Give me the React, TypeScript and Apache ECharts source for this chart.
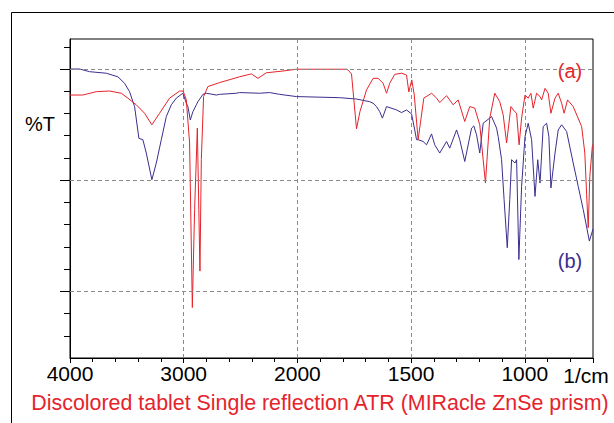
import { useEffect, useRef } from 'react';
import * as echarts from 'echarts';

// x tick labels (wavenumber, 1/cm) at positions 0,1000,2000,3000,4000 of the expanded axis
const xTickLabels = ['4000', '3000', '2000', '1500', '1000'];
const yMinorTicks = [-20, -10, 10, 20, 30, 40, 60, 70, 80, 90, 110];
const yMajorTicks = [0, 50, 100];

// (b) spectrum: wavenumber / %T
const bWn = [4000, 3916, 3828, 3681, 3579, 3520, 3476, 3432, 3394, 3359, 3329, 3280, 3241, 3197, 3153, 3109, 3065, 3007, 2977, 2963, 2942, 2919, 2889, 2875, 2831, 2801, 2713, 2684, 2537, 2508, 2332, 2244, 2156, 2009, 1814, 1740, 1682, 1667, 1652, 1638, 1626, 1608, 1564, 1542, 1520, 1498, 1484, 1476, 1469, 1447, 1432, 1410, 1396, 1374, 1344, 1330, 1300, 1286, 1264, 1234, 1224, 1212, 1198, 1183, 1146, 1124, 1117, 1102, 1091, 1077, 1066, 1058, 1043, 1036, 1026, 1014, 999, 985, 970, 955, 943, 933, 919, 904, 894, 885, 867, 853, 838, 816, 787, 765, 743, 716, 700];
const bT = [100, 100, 98.8, 98.1, 96.5, 93.6, 89.8, 83.1, 68.8, 68.2, 62.2, 50.2, 57.7, 68.2, 78.6, 83.9, 86.9, 89.1, 84.6, 83.1, 77.1, 80.8, 83.9, 85.3, 88.6, 89.1, 88.3, 88.6, 89.1, 89.4, 89.1, 89.4, 88.6, 87.6, 87.1, 86.5, 85.3, 84.6, 83.1, 80.8, 77.9, 83.1, 81.6, 80.4, 81.6, 79.8, 72.6, 68.2, 68.2, 67.4, 65.9, 70.8, 65.9, 62.2, 67.4, 64.4, 72.6, 68.2, 58.4, 73.4, 74.4, 70.4, 62.2, 75.6, 78.6, 73.4, 69.6, 59.2, 41.3, 19.6, 41.3, 59.2, 57.7, 59.2, 14.3, 47.2, 69.6, 75.6, 68.2, 42.7, 59.2, 48.7, 74.1, 75.6, 69.6, 46.5, 62.2, 72.6, 74.9, 71.9, 57.7, 47.2, 36.8, 22.6, 28];

// (a) spectrum: wavenumber / %T
const aWn = [4000, 3887, 3769, 3652, 3549, 3491, 3417, 3344, 3280, 3212, 3124, 3036, 3005, 2977, 2948, 2924, 2904, 2880, 2857, 2845, 2825, 2787, 2684, 2508, 2405, 2347, 2273, 2127, 2009, 1887, 1784, 1777, 1762, 1740, 1725, 1696, 1667, 1645, 1623, 1608, 1594, 1572, 1542, 1520, 1510, 1497, 1486, 1469, 1444, 1410, 1388, 1374, 1344, 1315, 1293, 1264, 1242, 1220, 1198, 1173, 1154, 1132, 1110, 1095, 1080, 1061, 1044, 1036, 1025, 1014, 999, 985, 973, 963, 948, 933, 926, 911, 897, 885, 867, 853, 838, 827, 812, 787, 750, 736, 728, 721, 714, 703, 700];
const aT = [88.3, 88.3, 89.8, 90.1, 89.1, 86.9, 83.9, 80.1, 74.9, 80.1, 86.9, 90.1, 90.1, 86.1, 66.7, -7.3, 36.8, 73.4, 9.1, 59.2, 87.6, 92.1, 93.9, 96.5, 97.8, 95.8, 98.3, 99.1, 99.9, 99.9, 99.9, 99.5, 97.8, 73.1, 80.8, 90.6, 95.8, 95.8, 93.6, 89.1, 93.6, 97.6, 98.1, 97.3, 89.7, 95.1, 88.3, 68.2, 86.9, 89.1, 86.9, 84.9, 88.0, 83.9, 86.1, 76.4, 83.1, 82.4, 74.9, 48.7, 77.9, 89.1, 85.3, 79.4, 66.7, 83.1, 80.8, 80.1, 65.9, 77.9, 88.3, 86.9, 89.1, 82.4, 89.1, 87.6, 86.1, 91.3, 89.1, 80.1, 86.9, 89.1, 84.6, 80.1, 86.1, 83.1, 74.1, 62.2, 43.5, 28.6, 51.7, 65.2, 66];

const RED = '#e5232b';
const BLUE = '#3a2f8e';
const FONT = '"Liberation Sans", Arial, Helvetica, sans-serif';

// IR axis with 2x expansion below 2000 1/cm
const toPos = (w: number) => (w >= 2000 ? 4000 - w : 2000 + (2000 - w) * 2);

export default function App() {
  const ref = useRef<HTMLDivElement>(null);
  useEffect(() => {
    if (!ref.current) return;
    const chart = echarts.init(ref.current, undefined, { renderer: 'svg' });
    const gridLine = { color: '#8a8a8a', type: [4, 3] as number[], width: 1 };
    chart.setOption({
      animation: false,
      backgroundColor: '#ffffff',
      grid: { left: 70, right: 21, top: 39, bottom: 65, show: true, borderColor: '#000', borderWidth: 1, backgroundColor: 'transparent' },
      xAxis: {
        type: 'value', min: 0, max: 4600, interval: 1000,
        axisLine: { show: true, onZero: false, lineStyle: { color: '#000', width: 1 } },
        axisTick: { show: true, length: 5, lineStyle: { color: '#000' } },
        minorTick: { show: true, splitNumber: 5, length: 4, lineStyle: { color: '#000' } },
        axisLabel: {
          color: '#000', fontSize: 21, fontFamily: FONT, margin: 5,
          formatter: (v: number) => xTickLabels[Math.round(v / 1000)] ?? '',
          showMaxLabel: false,
        },
        splitLine: { show: true, showMinLine: false, showMaxLine: false, lineStyle: gridLine },
      },
      yAxis: [
        {
          type: 'value', min: -30, max: 113.5, position: 'left',
          axisLine: { show: true, onZero: false, lineStyle: { color: '#000' } },
          axisTick: { show: true, length: 6, customValues: yMinorTicks, lineStyle: { color: '#000' } },
          axisLabel: { show: false },
          splitLine: { show: false },
        },
        {
          type: 'value', min: -30, max: 113.5, position: 'left',
          axisLine: { show: false },
          axisTick: { show: true, length: 10, customValues: yMajorTicks, lineStyle: { color: '#000' } },
          axisLabel: { show: false },
          splitLine: { show: false },
        },
      ],
      series: [
        {
          name: '(b)', type: 'line', yAxisIndex: 0, showSymbol: false, symbol: 'none',
          lineStyle: { color: BLUE, width: 1 }, itemStyle: { color: BLUE },
          data: bWn.map((w, i) => [toPos(w), bT[i]]),
          markLine: {
            silent: true, symbol: 'none', label: { show: false }, lineStyle: gridLine,
            data: yMajorTicks.map((v) => ({ yAxis: v })),
          },
          z: 3,
        },
        {
          name: '(a)', type: 'line', yAxisIndex: 0, showSymbol: false, symbol: 'none',
          lineStyle: { color: RED, width: 1 }, itemStyle: { color: RED },
          data: aWn.map((w, i) => [toPos(w), aT[i]]),
          z: 4,
        },
      ],
      graphic: [
        { type: 'rect', silent: true, z: -10, shape: { x: 11.5, y: 12.5, width: 700, height: 500 }, style: { fill: 'none', stroke: '#000', lineWidth: 1 } },
        { type: 'text', x: 25, y: 124, style: { text: '%T', fontSize: 20, fontFamily: FONT, fill: '#000', align: 'left', verticalAlign: 'middle' } },
        { type: 'text', x: 586, y: 375, style: { text: '1/cm', fontSize: 21, fontFamily: FONT, fill: '#000', align: 'center', verticalAlign: 'middle' } },
        { type: 'text', x: 570, y: 71, style: { text: '(a)', fontSize: 20, fontFamily: FONT, fill: RED, align: 'center', verticalAlign: 'middle' } },
        { type: 'text', x: 570, y: 261, style: { text: '(b)', fontSize: 20, fontFamily: FONT, fill: BLUE, align: 'center', verticalAlign: 'middle' } },
        { type: 'text', x: 320, y: 403, style: { text: 'Discolored tablet Single reflection ATR (MIRacle ZnSe prism)', fontSize: 21.4, fontFamily: FONT, fill: RED, align: 'center', verticalAlign: 'middle' } },
      ],
    });
    return () => chart.dispose();
  }, []);
  return <div ref={ref} style={{ position: 'absolute', left: 0, top: 0, width: 614, height: 423, background: '#fff' }} />;
}
